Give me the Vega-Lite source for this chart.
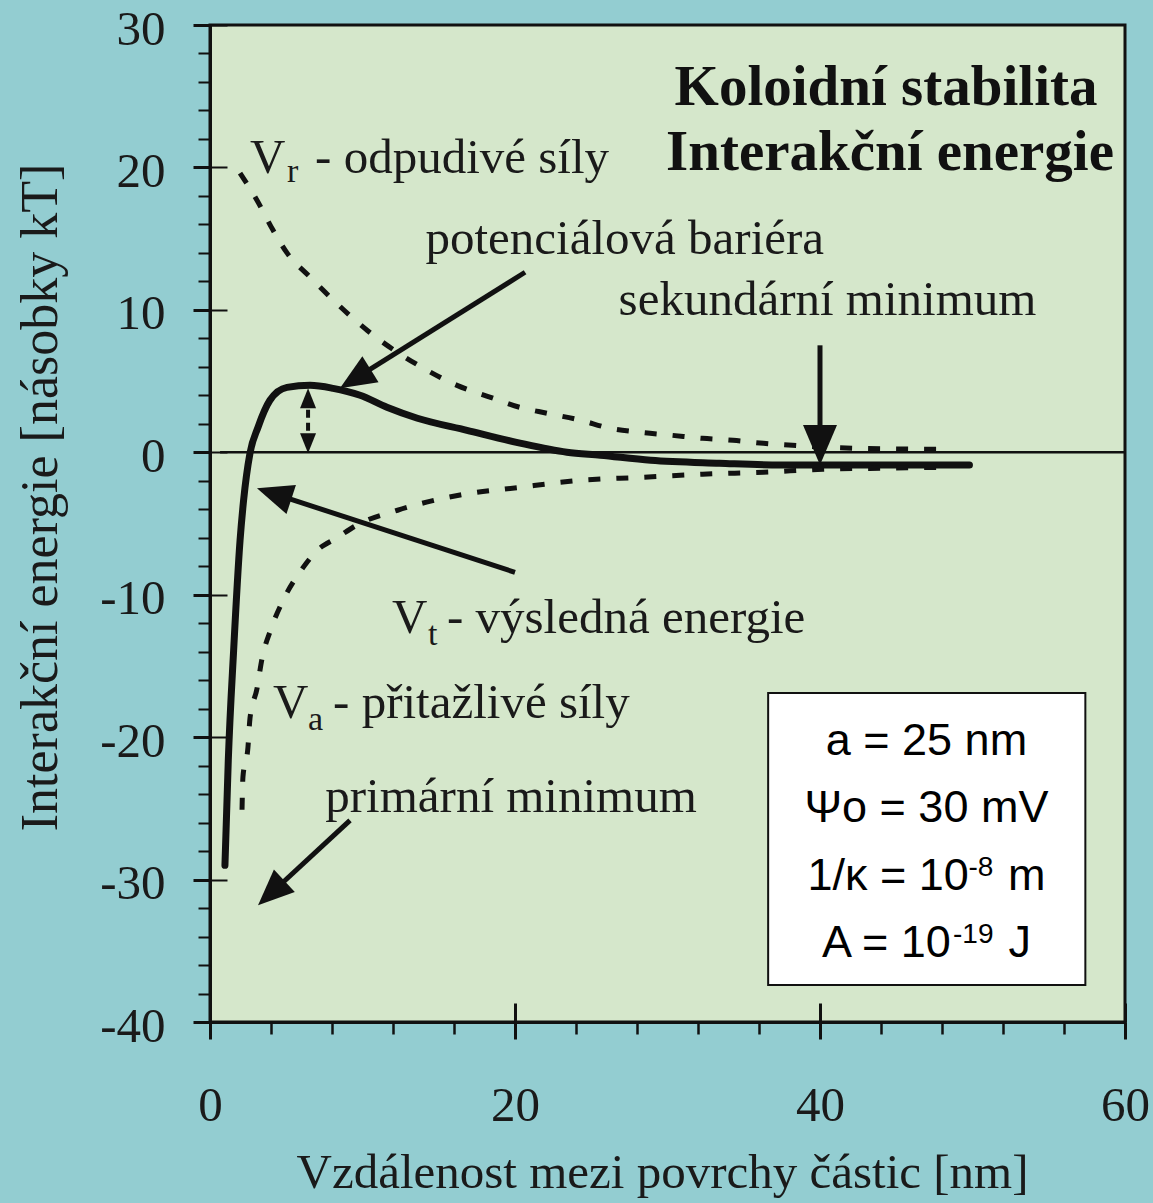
{
  "$schema": "https://vega.github.io/schema/vega-lite/v6.json",
  "width": 915,
  "height": 997,
  "autosize": {"type": "none"},
  "padding": {"left": 210, "top": 25, "right": 28, "bottom": 181},
  "background": "#93CDD1",
  "view": {"fill": "#D5E7CB", "stroke": "#111", "strokeWidth": 3},
  "config": {
    "axis": {"labelFont": "Liberation Serif", "titleFont": "Liberation Serif", "labelColor": "#1a1a1a", "titleColor": "#1a1a1a", "tickColor": "#111", "domainColor": "#111", "grid": false, "titleFontWeight": "normal", "labelFlush": false, "labelOverlap": false}
  },
  "resolve": {"axis": {"x": "independent", "y": "independent"}},
  "datasets": {
    "vt": [
      {"x": 0.98, "y": -29.0}, {"x": 1.2, "y": -21.6}, {"x": 1.55, "y": -13.9}, {"x": 1.97, "y": -6.2},
      {"x": 2.2, "y": -3.4}, {"x": 2.62, "y": -0.07}, {"x": 3.15, "y": 1.76}, {"x": 3.93, "y": 3.65},
      {"x": 5.05, "y": 4.56}, {"x": 6.56, "y": 4.7}, {"x": 8.07, "y": 4.49}, {"x": 9.84, "y": 4.0},
      {"x": 11.6, "y": 3.16}, {"x": 13.6, "y": 2.39}, {"x": 16.85, "y": 1.54}, {"x": 20.1, "y": 0.7},
      {"x": 23.4, "y": 0.0}, {"x": 25.6, "y": -0.21}, {"x": 28.9, "y": -0.56}, {"x": 33.4, "y": -0.77},
      {"x": 37.4, "y": -0.9}, {"x": 49.8, "y": -0.9}
    ],
    "vr": [
      {"x": 1.97, "y": 19.6}, {"x": 3.08, "y": 17.7}, {"x": 4.13, "y": 15.6}, {"x": 5.05, "y": 14.0},
      {"x": 6.56, "y": 12.3}, {"x": 8.07, "y": 10.7}, {"x": 10.3, "y": 8.57}, {"x": 14.0, "y": 5.9},
      {"x": 16.2, "y": 4.7}, {"x": 18.4, "y": 3.86}, {"x": 20.3, "y": 3.16}, {"x": 22.1, "y": 2.74},
      {"x": 24.3, "y": 2.25}, {"x": 26.2, "y": 1.69}, {"x": 28.2, "y": 1.4}, {"x": 30.3, "y": 1.19},
      {"x": 32.3, "y": 0.98}, {"x": 34.3, "y": 0.84}, {"x": 36.3, "y": 0.63}, {"x": 38.2, "y": 0.49},
      {"x": 42.3, "y": 0.28}, {"x": 48.2, "y": 0.21}
    ],
    "va": [
      {"x": 2.1, "y": -25.1}, {"x": 2.16, "y": -22.8}, {"x": 2.49, "y": -20.7}, {"x": 2.62, "y": -18.7},
      {"x": 3.08, "y": -16.6}, {"x": 3.41, "y": -14.5}, {"x": 4.0, "y": -12.4}, {"x": 4.79, "y": -10.4},
      {"x": 6.1, "y": -8.1}, {"x": 7.02, "y": -6.9}, {"x": 8.33, "y": -6.0}, {"x": 9.64, "y": -5.1},
      {"x": 12.3, "y": -4.07}, {"x": 14.2, "y": -3.5}, {"x": 16.4, "y": -3.0}, {"x": 20.3, "y": -2.46},
      {"x": 24.3, "y": -1.97}, {"x": 28.2, "y": -1.76}, {"x": 32.3, "y": -1.54}, {"x": 36.3, "y": -1.4},
      {"x": 40.2, "y": -1.19}, {"x": 44.1, "y": -1.12}, {"x": 48.2, "y": -1.05}
    ],
    "shafts": [
      {"x": 20.66, "y": 12.64, "x2": 9.36, "y2": 5.06},
      {"x": 40, "y": 7.51, "x2": 40, "y2": 0.14},
      {"x": 20.0, "y": -8.43, "x2": 4.02, "y2": -2.85},
      {"x": 9.18, "y": -25.84, "x2": 3.87, "y2": -31.1}
    ],
    "heads": [
      {"arrow": "bariera", "x": 8.52, "y": 4.49},
      {"arrow": "sekundarni", "x": 40, "y": -0.9},
      {"arrow": "vysledna", "x": 3.08, "y": -2.53},
      {"arrow": "primarni", "x": 3.15, "y": -31.81},
      {"arrow": "up", "x": 6.43, "y": 4.49},
      {"arrow": "down", "x": 6.43, "y": -0.07}
    ],
    "centered": [
      {"x": 27.2, "y": 13.9, "text": "potenciálová bariéra"},
      {"x": 40.49, "y": 9.62, "text": "sekundární minimum"},
      {"x": 19.74, "y": -25.28, "text": "primární minimum"}
    ],
    "bold": [
      {"x": 44.33, "y": 24.37, "text": "Koloidní stabilita"},
      {"x": 44.59, "y": 19.8, "text": "Interakční energie"}
    ],
    "leftText": [
      {"x": 2.62, "y": 19.59, "text": "V"},
      {"x": 6.89, "y": 19.59, "text": "- odpudivé síly"},
      {"x": 11.93, "y": -12.71, "text": "V"},
      {"x": 15.54, "y": -12.71, "text": "- výsledná energie"},
      {"x": 4.13, "y": -18.68, "text": "V"},
      {"x": 8.07, "y": -18.68, "text": "- přitažlivé síly"}
    ],
    "subs": [
      {"x": 5.05, "y": 18.96, "text": "r"},
      {"x": 14.3, "y": -13.55, "text": "t"},
      {"x": 6.43, "y": -19.52, "text": "a"}
    ],
    "boxCenter": [
      {"x": 46.98, "y": -21.28, "text": "a = 25 nm"},
      {"x": 46.98, "y": -25.98, "text": "Ψo = 30 mV"}
    ],
    "boxLeft": [
      {"x": 39.18, "y": -30.76, "text": "1/κ = 10"},
      {"x": 52.33, "y": -30.76, "text": "m"},
      {"x": 40.13, "y": -35.46, "text": "A = 10"},
      {"x": 52.36, "y": -35.46, "text": "J"}
    ],
    "boxSup": [
      {"x": 49.74, "y": -29.78, "text": "-8"},
      {"x": 48.72, "y": -34.48, "text": "-19"}
    ]
  },
  "layer": [
    {
      "data": {"name": "vt"},
      "mark": {"type": "line", "color": "#111", "strokeWidth": 7, "interpolate": "monotone", "strokeCap": "round"},
      "encoding": {
        "x": {"field": "x", "type": "quantitative", "scale": {"domain": [0, 60], "nice": false, "zero": false},
          "axis": {"orient": "bottom", "values": [0, 20, 40, 60], "tickSize": 17, "tickWidth": 3, "domainWidth": 3, "labelFontSize": 49, "labelPadding": 81, "labelBaseline": "alphabetic", "title": "Vzdálenost mezi povrchy částic [nm]", "titleFontSize": 49, "titleX": 452, "titleY": 165, "titleAlign": "center", "titleBaseline": "alphabetic"}},
        "y": {"field": "y", "type": "quantitative", "scale": {"domain": [-40, 30], "nice": false, "zero": false},
          "axis": {"orient": "left", "values": [-40, -30, -20, -10, 0, 10, 20, 30], "tickSize": 17, "tickWidth": 3, "domainWidth": 3, "labelFontSize": 49, "labelPadding": 28, "labelExpr": "datum.value < 0 ? '-' + abs(datum.value) : '' + datum.value", "labelBaseline": "alphabetic", "labelOffset": 19, "title": "Interakční energie [násobky kT]", "titleFontSize": 52, "titleX": -170, "titleY": 472, "titleAngle": -90, "titleAlign": "center", "titleBaseline": "middle"}}
      }
    },
    {
      "data": {"name": "vr"},
      "mark": {"type": "line", "color": "#111", "strokeWidth": 5, "strokeDash": [12, 16], "interpolate": "monotone"},
      "encoding": {
        "x": {"field": "x", "type": "quantitative", "scale": {"domain": [0, 60], "nice": false, "zero": false},
          "axis": {"orient": "bottom", "values": [0, 4, 8, 12, 16, 20, 24, 28, 32, 36, 40, 44, 48, 52, 56, 60], "tickSize": 12, "tickWidth": 2.5, "labels": false, "domain": false, "title": null}},
        "y": {"field": "y", "type": "quantitative", "scale": {"domain": [-40, 30], "nice": false, "zero": false},
          "axis": {"orient": "left", "values": [-40, -38, -36, -34, -32, -30, -28, -26, -24, -22, -20, -18, -16, -14, -12, -10, -8, -6, -4, -2, 0, 2, 4, 6, 8, 10, 12, 14, 16, 18, 20, 22, 24, 26, 28, 30], "tickSize": 12, "tickWidth": 2, "labels": false, "domain": false, "title": null}}
      }
    },
    {
      "data": {"name": "va"},
      "mark": {"type": "line", "color": "#111", "strokeWidth": 5, "strokeDash": [12, 16], "interpolate": "monotone"},
      "encoding": {
        "x": {"field": "x", "type": "quantitative", "scale": {"domain": [0, 60], "nice": false, "zero": false},
          "axis": {"orient": "bottom", "values": [0, 20, 40, 60], "tickSize": -19, "tickWidth": 3, "labels": false, "domain": false, "title": null}},
        "y": {"field": "y", "type": "quantitative", "scale": {"domain": [-40, 30], "nice": false, "zero": false},
          "axis": {"orient": "left", "values": [-40, -30, -20, -10, 0, 10, 20, 30], "tickSize": -17, "tickWidth": 2, "labels": false, "domain": false, "title": null}}
      }
    },
    {
      "data": {"values": [{}]},
      "mark": {"type": "rule", "color": "#111", "strokeWidth": 2.5},
      "encoding": {
        "x": {"datum": 0.66, "type": "quantitative", "axis": null},
        "x2": {"datum": 60},
        "y": {"datum": 0, "type": "quantitative", "axis": null}
      }
    },
    {
      "data": {"values": [{"x": 36.6, "x2": 57.4, "y": -16.9, "y2": -37.4}]},
      "mark": {"type": "rect", "fill": "white", "stroke": "#111", "strokeWidth": 2},
      "encoding": {
        "x": {"field": "x", "type": "quantitative", "axis": null},
        "x2": {"field": "x2"},
        "y": {"field": "y", "type": "quantitative", "axis": null},
        "y2": {"field": "y2"}
      }
    },
    {
      "data": {"name": "shafts"},
      "mark": {"type": "rule", "color": "#111", "strokeWidth": 5},
      "encoding": {
        "x": {"field": "x", "type": "quantitative", "axis": null},
        "x2": {"field": "x2"},
        "y": {"field": "y", "type": "quantitative", "axis": null},
        "y2": {"field": "y2"}
      }
    },
    {
      "data": {"values": [{"x": 6.43, "y": 3.9, "y2": 0.6}]},
      "mark": {"type": "rule", "color": "#111", "strokeWidth": 4, "strokeDash": [8, 5]},
      "encoding": {
        "x": {"field": "x", "type": "quantitative", "axis": null},
        "y": {"field": "y", "type": "quantitative", "axis": null},
        "y2": {"field": "y2"}
      }
    },
    {
      "data": {"name": "heads"},
      "transform": [{"filter": {"field": "arrow", "equal": "bariera"}}],
      "mark": {"type": "point", "shape": "M0,0L0.85,2L-0.85,2Z", "filled": true, "color": "#111", "opacity": 1, "size": 1296, "angle": 238},
      "encoding": {"x": {"field": "x", "type": "quantitative", "axis": null}, "y": {"field": "y", "type": "quantitative", "axis": null}}
    },
    {
      "data": {"name": "heads"},
      "transform": [{"filter": {"field": "arrow", "equal": "sekundarni"}}],
      "mark": {"type": "point", "shape": "M0,0L0.85,2L-0.85,2Z", "filled": true, "color": "#111", "opacity": 1, "size": 1600, "angle": 180},
      "encoding": {"x": {"field": "x", "type": "quantitative", "axis": null}, "y": {"field": "y", "type": "quantitative", "axis": null}}
    },
    {
      "data": {"name": "heads"},
      "transform": [{"filter": {"field": "arrow", "equal": "vysledna"}}],
      "mark": {"type": "point", "shape": "M0,0L0.85,2L-0.85,2Z", "filled": true, "color": "#111", "opacity": 1, "size": 1296, "angle": 288},
      "encoding": {"x": {"field": "x", "type": "quantitative", "axis": null}, "y": {"field": "y", "type": "quantitative", "axis": null}}
    },
    {
      "data": {"name": "heads"},
      "transform": [{"filter": {"field": "arrow", "equal": "primarni"}}],
      "mark": {"type": "point", "shape": "M0,0L0.85,2L-0.85,2Z", "filled": true, "color": "#111", "opacity": 1, "size": 1296, "angle": 227},
      "encoding": {"x": {"field": "x", "type": "quantitative", "axis": null}, "y": {"field": "y", "type": "quantitative", "axis": null}}
    },
    {
      "data": {"name": "heads"},
      "transform": [{"filter": {"field": "arrow", "equal": "up"}}],
      "mark": {"type": "point", "shape": "M0,0L0.8,2L-0.8,2Z", "filled": true, "color": "#111", "opacity": 1, "size": 400, "angle": 0},
      "encoding": {"x": {"field": "x", "type": "quantitative", "axis": null}, "y": {"field": "y", "type": "quantitative", "axis": null}}
    },
    {
      "data": {"name": "heads"},
      "transform": [{"filter": {"field": "arrow", "equal": "down"}}],
      "mark": {"type": "point", "shape": "M0,0L0.8,2L-0.8,2Z", "filled": true, "color": "#111", "opacity": 1, "size": 400, "angle": 180},
      "encoding": {"x": {"field": "x", "type": "quantitative", "axis": null}, "y": {"field": "y", "type": "quantitative", "axis": null}}
    },
    {
      "data": {"name": "centered"},
      "mark": {"type": "text", "align": "center", "baseline": "alphabetic", "font": "Liberation Serif", "fontSize": 49, "color": "#1a1a1a"},
      "encoding": {"x": {"field": "x", "type": "quantitative", "axis": null}, "y": {"field": "y", "type": "quantitative", "axis": null}, "text": {"field": "text"}}
    },
    {
      "data": {"name": "bold"},
      "mark": {"type": "text", "align": "center", "baseline": "alphabetic", "font": "Liberation Serif", "fontSize": 57, "fontWeight": "bold", "color": "#111"},
      "encoding": {"x": {"field": "x", "type": "quantitative", "axis": null}, "y": {"field": "y", "type": "quantitative", "axis": null}, "text": {"field": "text"}}
    },
    {
      "data": {"name": "leftText"},
      "mark": {"type": "text", "align": "left", "baseline": "alphabetic", "font": "Liberation Serif", "fontSize": 49, "color": "#1a1a1a"},
      "encoding": {"x": {"field": "x", "type": "quantitative", "axis": null}, "y": {"field": "y", "type": "quantitative", "axis": null}, "text": {"field": "text"}}
    },
    {
      "data": {"name": "subs"},
      "mark": {"type": "text", "align": "left", "baseline": "alphabetic", "font": "Liberation Serif", "fontSize": 34, "color": "#1a1a1a"},
      "encoding": {"x": {"field": "x", "type": "quantitative", "axis": null}, "y": {"field": "y", "type": "quantitative", "axis": null}, "text": {"field": "text"}}
    },
    {
      "data": {"name": "boxCenter"},
      "mark": {"type": "text", "align": "center", "baseline": "alphabetic", "font": "Liberation Sans", "fontSize": 45, "color": "#000"},
      "encoding": {"x": {"field": "x", "type": "quantitative", "axis": null}, "y": {"field": "y", "type": "quantitative", "axis": null}, "text": {"field": "text"}}
    },
    {
      "data": {"name": "boxLeft"},
      "mark": {"type": "text", "align": "left", "baseline": "alphabetic", "font": "Liberation Sans", "fontSize": 45, "color": "#000"},
      "encoding": {"x": {"field": "x", "type": "quantitative", "axis": null}, "y": {"field": "y", "type": "quantitative", "axis": null}, "text": {"field": "text"}}
    },
    {
      "data": {"name": "boxSup"},
      "mark": {"type": "text", "align": "left", "baseline": "alphabetic", "font": "Liberation Sans", "fontSize": 28, "color": "#000"},
      "encoding": {"x": {"field": "x", "type": "quantitative", "axis": null}, "y": {"field": "y", "type": "quantitative", "axis": null}, "text": {"field": "text"}}
    }
  ]
}
